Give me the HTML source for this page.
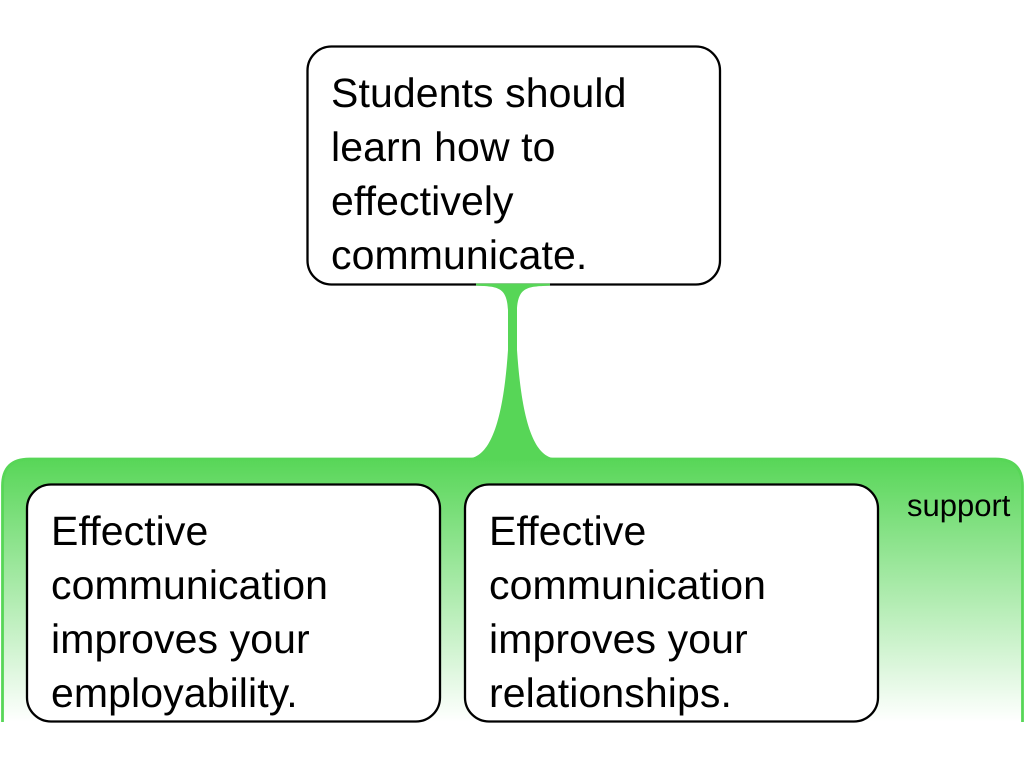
<!DOCTYPE html>
<html>
<head>
<meta charset="utf-8">
<style>
html,body{margin:0;padding:0;background:#fff}
svg{display:block}
text{font-family:"Liberation Sans",sans-serif;fill:#000;text-rendering:geometricPrecision;font-variant-ligatures:none;font-feature-settings:"liga" 0}
.m{font-size:41px;letter-spacing:.1px}
</style>
</head>
<body>
<svg width="1024" height="768" viewBox="0 0 1024 768" xmlns="http://www.w3.org/2000/svg">
<defs>
<linearGradient id="g" x1="0" y1="458" x2="0" y2="722" gradientUnits="userSpaceOnUse">
<stop offset="0" stop-color="#57d657"/>
<stop offset="1" stop-color="#ffffff"/>
</linearGradient>
</defs>
<path d="M2.500 722V486Q2.500 459 29.500 459H995.500Q1022.500 459 1022.500 486V722Z" fill="url(#g)"/>
<path d="M2.500 722V486Q2.500 459 29.500 459H995.500Q1022.500 459 1022.500 486V722" fill="none" stroke="#57d657" stroke-width="2.800"/>
<rect x="307.500" y="46.500" width="412.500" height="238" rx="24" fill="#fff" stroke="#000" stroke-width="2.300"/>
<rect x="27" y="484.500" width="413" height="237" rx="24" fill="#fff" stroke="#000" stroke-width="2.300"/>
<rect x="465" y="484.500" width="413" height="237" rx="24" fill="#fff" stroke="#000" stroke-width="2.300"/>
<path d="M467 458.500C489 458.500 503 425 508 350V310C507 285 495 287 476 285.500V283.500H550V285.500C530 287 518 285 517 310V350C522 425 535 458.500 557 458.500V460H467Z" fill="#57d657"/>
<text class="m" x="331" y="107">Students should</text>
<text class="m" x="331" y="161">learn how to</text>
<text class="m" x="331" y="215">effectively</text>
<text class="m" x="331" y="269">communicate.</text>
<text class="m" x="51" y="545">Effective</text>
<text class="m" x="51" y="599">communication</text>
<text class="m" x="51" y="653">improves your</text>
<text class="m" x="51" y="707">employability.</text>
<text class="m" x="489" y="545">Effective</text>
<text class="m" x="489" y="599">communication</text>
<text class="m" x="489" y="653">improves your</text>
<text class="m" x="489" y="707">relationships.</text>
<text x="907" y="516" font-size="31">support</text>
</svg>
</body>
</html>
